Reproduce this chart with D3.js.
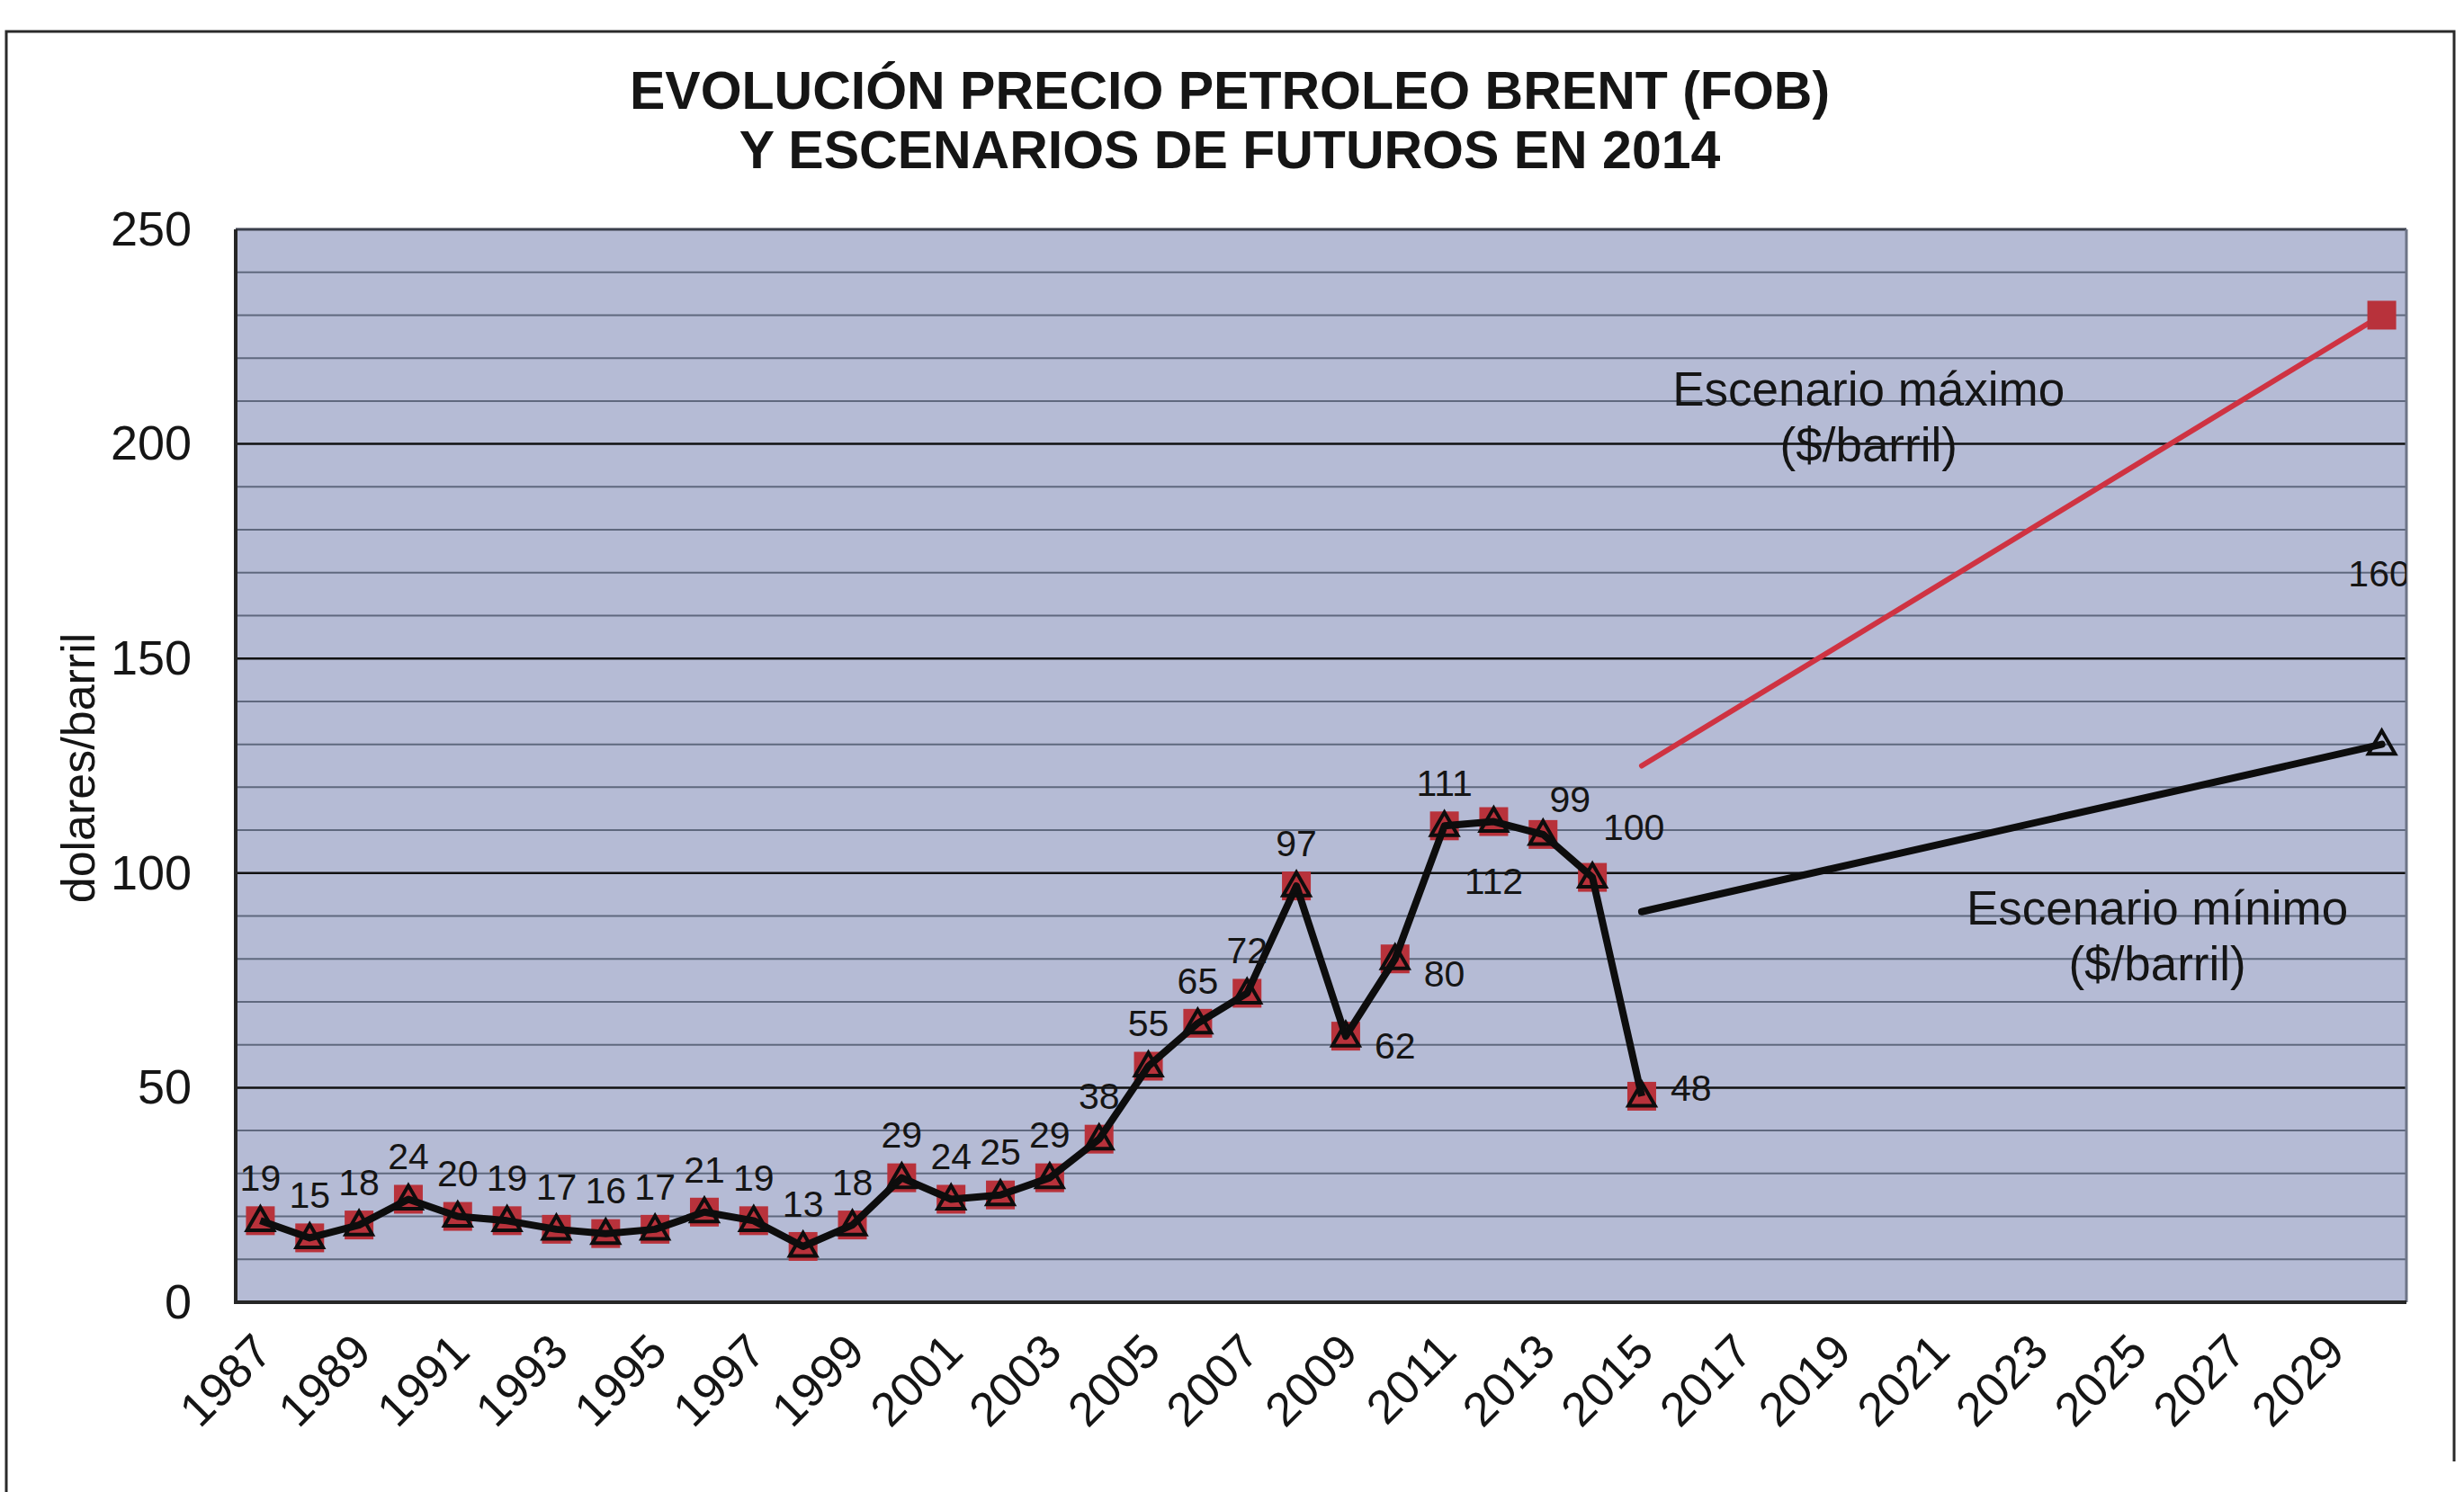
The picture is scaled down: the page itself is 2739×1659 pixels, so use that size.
<!DOCTYPE html>
<html lang="es">
<head>
  <meta charset="utf-8">
  <script src="https://d3js.org/d3.v7.min.js"></script>
  <style>
    body { margin: 0; background: #fff; }
    text { font-family: "Liberation Sans", Arial, sans-serif; fill: #151515; }
    .title { font-size: 59px; font-weight: bold; }
    .ytick { font-size: 54px; }
    .xtick { font-size: 53px; }
    .ylab { font-size: 52px; }
    .dlabel { font-size: 41px; }
    .note { font-size: 53px; }
  </style>
</head>
<body>
<script>
  // categories (years on the x axis)
  var years = [1987, 1988, 1989, 1990, 1991, 1992, 1993, 1994, 1995, 1996, 1997,
    1998, 1999, 2000, 2001, 2002, 2003, 2004, 2005, 2006, 2007, 2008, 2009,
    2010, 2011, 2012, 2013, 2014, 2015, 2016, 2017, 2018, 2019, 2020, 2021,
    2022, 2023, 2024, 2025, 2026, 2027, 2028, 2029, 2030];
  var xTickLabels = ["1987", "1989", "1991", "1993", "1995", "1997", "1999", "2001",
    "2003", "2005", "2007", "2009", "2011", "2013", "2015", "2017", "2019",
    "2021", "2023", "2025", "2027", "2029"];
  var yTicks = [0, 50, 100, 150, 200, 250];

  // Brent price history, $/barril
  var histYears = [1987, 1988, 1989, 1990, 1991, 1992, 1993, 1994, 1995, 1996, 1997,
    1998, 1999, 2000, 2001, 2002, 2003, 2004, 2005, 2006, 2007, 2008, 2009,
    2010, 2011, 2012, 2013, 2014, 2015];
  var histValues = [19, 15, 18, 24, 20, 19, 17, 16, 17, 21, 19, 13, 18, 29, 24, 25,
    29, 38, 55, 65, 72, 97, 62, 80, 111, 112, 109, 99, 48];
  var histLabels = ["19", "15", "18", "24", "20", "19", "17", "16", "17", "21", "19",
    "13", "18", "29", "24", "25", "29", "38", "55", "65", "72", "97", "62", "80",
    "111", "112", "99", "100", "48"];

  // future scenarios
  var maxYears = [2015, 2030];
  var maxValues = [125, 230];
  var minYears = [2015, 2030];
  var minValues = [91, 130];

  var W = 2739, H = 1659;
  var pL = 262, pR = 2675, pT = 255, pB = 1448;

  var svg = d3.select("body").append("svg")
    .attr("width", W).attr("height", H);

  // outer frame (scanned page border)
  svg.append("path")
    .attr("d", "M7,1659 L7,35 L2728,35 L2728,1625")
    .attr("fill", "none").attr("stroke", "#2a2a2a").attr("stroke-width", 3);

  var x = d3.scaleBand().domain(years).range([pL, pR]);
  var y = d3.scaleLinear().domain([0, 250]).range([pB, pT]);
  var step = x.step();
  function xc(yr) { return x(years[0]) + (yr - years[0]) * step + x.bandwidth() / 2; }

  // title
  svg.append("text").attr("class", "title").attr("x", 1367).attr("y", 121)
    .attr("text-anchor", "middle").text("EVOLUCIÓN PRECIO PETROLEO BRENT (FOB)");
  svg.append("text").attr("class", "title").attr("x", 1367).attr("y", 187)
    .attr("text-anchor", "middle").text("Y ESCENARIOS DE FUTUROS EN 2014");

  // plot background
  svg.append("rect").attr("x", pL).attr("y", pT)
    .attr("width", pR - pL).attr("height", pB - pT)
    .attr("fill", "#b5bbd5");

  // gridlines every 10, darker every 50
  var grid = d3.range(10, 250, 10);
  svg.append("g").selectAll("line").data(grid).enter().append("line")
    .attr("x1", pL).attr("x2", pR)
    .attr("y1", function (d) { return y(d); })
    .attr("y2", function (d) { return y(d); })
    .attr("stroke", function (d) { return d % 50 === 0 ? "#111" : "#5f687e"; })
    .attr("stroke-width", function (d) { return d % 50 === 0 ? 2.5 : 2; });

  // plot border
  svg.append("line").attr("x1", pL).attr("x2", pR).attr("y1", pT).attr("y2", pT)
    .attr("stroke", "#3a3f4c").attr("stroke-width", 3);
  svg.append("line").attr("x1", pR).attr("x2", pR).attr("y1", pT).attr("y2", pB)
    .attr("stroke", "#6d7486").attr("stroke-width", 3);
  svg.append("line").attr("x1", pL).attr("x2", pL).attr("y1", pT).attr("y2", pB + 2)
    .attr("stroke", "#262626").attr("stroke-width", 4);
  svg.append("line").attr("x1", pL).attr("x2", pR).attr("y1", pB).attr("y2", pB)
    .attr("stroke", "#262626").attr("stroke-width", 4);

  // y axis
  var yAxis = d3.axisLeft(y).tickValues(yTicks).tickSize(0).tickPadding(49);
  var gy = svg.append("g").attr("transform", "translate(" + pL + ",0)").call(yAxis);
  gy.select(".domain").remove();
  gy.attr("font-family", null).attr("font-size", null);
  gy.selectAll("text").attr("class", "ytick").attr("fill", "#151515");

  svg.append("text").attr("class", "ylab")
    .attr("transform", "translate(105,854) rotate(-90)")
    .attr("text-anchor", "middle").text("dolares/barril");

  // x axis
  var xAxis = d3.axisBottom(x)
    .tickValues(xTickLabels.map(Number)).tickSize(0).tickFormat(d3.format("d"));
  var gx = svg.append("g").attr("transform", "translate(0," + pB + ")").call(xAxis);
  gx.select(".domain").remove();
  gx.attr("font-family", null).attr("font-size", null);
  gx.selectAll("text").attr("class", "xtick").attr("fill", "#151515")
    .attr("text-anchor", "end").attr("dy", 0).attr("y", 0)
    .attr("transform", "translate(16,58) rotate(-45)");

  svg.append("clipPath").attr("id", "plotclip").append("rect")
    .attr("x", pL).attr("y", pT).attr("width", pR - pL).attr("height", pB - pT);
  var plot = svg.append("g").attr("clip-path", "url(#plotclip)");

  var hist = histYears.map(function (yr, i) {
    return { year: yr, value: histValues[i], label: histLabels[i] };
  });
  var line = d3.line().x(function (d) { return xc(d.year); })
    .y(function (d) { return y(d.value); });

  // scenario lines
  var maxData = maxYears.map(function (yr, i) { return { year: yr, value: maxValues[i] }; });
  var minData = minYears.map(function (yr, i) { return { year: yr, value: minValues[i] }; });
  plot.append("path").datum(maxData).attr("d", line)
    .attr("fill", "none").attr("stroke", "#cf3342").attr("stroke-width", 6)
    .attr("stroke-linecap", "round");
  plot.append("path").datum(minData).attr("d", line)
    .attr("fill", "none").attr("stroke", "#0d0d0d").attr("stroke-width", 8)
    .attr("stroke-linecap", "round");

  var sq = 32;
  // red squares (history + final max point)
  plot.selectAll("rect.sq").data(hist.concat([maxData[1]])).enter().append("rect")
    .attr("class", "sq")
    .attr("x", function (d) { return xc(d.year) - sq / 2; })
    .attr("y", function (d) { return y(d.value) - sq / 2; })
    .attr("width", sq).attr("height", sq)
    .attr("fill", "#b8323b");

  // history line
  plot.append("path").datum(hist).attr("d", line)
    .attr("fill", "none").attr("stroke", "#0d0d0d").attr("stroke-width", 8)
    .attr("stroke-linejoin", "round");

  // triangles (history + final min point)
  var tri = d3.symbol().type(d3.symbolTriangle).size(380);
  plot.selectAll("path.tri").data(hist.concat([minData[1]])).enter().append("path")
    .attr("class", "tri").attr("d", tri)
    .attr("transform", function (d) { return "translate(" + xc(d.year) + "," + (y(d.value) + 2) + ")"; })
    .attr("fill", "none").attr("stroke", "#0d0d0d").attr("stroke-width", 4);

  // data label placement (offsets from the point)
  var labelOffset = {
    2009: [32, 10, "start"], 2010: [32, 16, "start"], 2015: [32, -10, "start"],
    2012: [0, 66, "middle"], 2013: [30, -40, "middle"], 2014: [46, -56, "middle"]
  };
  plot.selectAll("text.dlabel").data(hist).enter().append("text")
    .attr("class", "dlabel")
    .attr("x", function (d) { var o = labelOffset[d.year]; return xc(d.year) + (o ? o[0] : 0); })
    .attr("y", function (d) { var o = labelOffset[d.year]; return y(d.value) + (o ? o[1] : -48); })
    .attr("dy", "0.36em")
    .attr("text-anchor", function (d) { var o = labelOffset[d.year]; return o ? o[2] : "middle"; })
    .text(function (d) { return d.label; });

  // stray label at the right edge
  plot.append("text").attr("class", "dlabel")
    .attr("x", xc(2030) - 3).attr("y", y(170)).attr("dy", "0.36em")
    .attr("text-anchor", "middle").text("160");

  // scenario notes
  var notes = [
    { year: 2019.6, value: 213, text: "Escenario máximo" },
    { year: 2019.6, value: 200, text: "($/barril)" },
    { year: 2025.45, value: 92, text: "Escenario mínimo" },
    { year: 2025.45, value: 79, text: "($/barril)" }
  ];
  plot.selectAll("text.note").data(notes).enter().append("text")
    .attr("class", "note")
    .attr("x", function (d) { return xc(d.year); })
    .attr("y", function (d) { return y(d.value); })
    .attr("dy", "0.36em").attr("text-anchor", "middle")
    .text(function (d) { return d.text; });
</script>
</body>
</html>
